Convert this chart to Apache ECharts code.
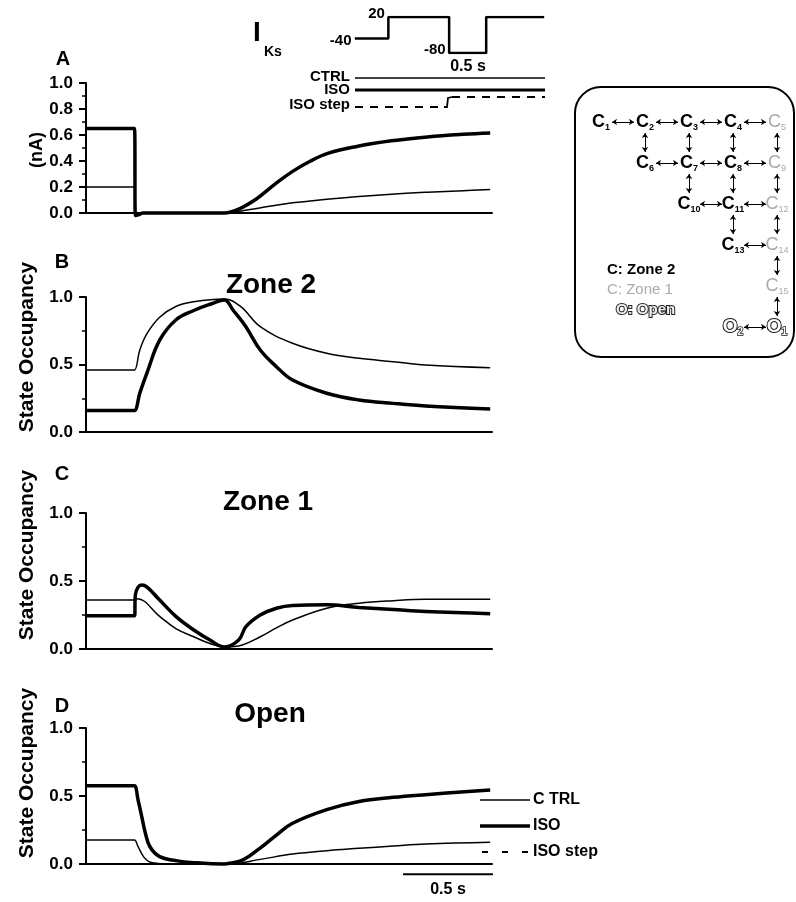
<!DOCTYPE html>
<html>
<head>
<meta charset="utf-8">
<title>IKs state occupancy</title>
<script src="https://cdn.jsdelivr.net/npm/echarts@6/dist/echarts.min.js"></script>
<style>
html, body { margin: 0; padding: 0; background: #fff; }
#main { width: 796px; height: 902px; }
</style>
</head>
<body>
<div id="main"></div>
<script>
// ---- data (time in s) ----
// A: current (nA)
var tA_ctrl = [0, 0.255, 0.27, 0.275, 0.29, 0.74, 0.77, 0.85, 0.95, 1.05, 1.15, 1.3, 1.5, 1.7, 1.9, 2.1, 2.25];
var vA_ctrl = [0.2, 0.2, 0.2, 0, 0, 0, 0, 0.012, 0.035, 0.058, 0.078, 0.1, 0.125, 0.145, 0.16, 0.172, 0.18];
var tA_iso = [0, 0.255, 0.27, 0.275, 0.29, 0.32, 0.74, 0.77, 0.85, 0.95, 1.05, 1.15, 1.25, 1.35, 1.5, 1.7, 1.9, 2.1, 2.25];
var vA_iso = [0.65, 0.65, 0.65, -0.02, -0.015, 0, 0, 0, 0.03, 0.11, 0.22, 0.32, 0.4, 0.46, 0.51, 0.555, 0.585, 0.605, 0.615];

// B: zone 2 occupancy
var tB_ctrl = [0, 0.255, 0.27, 0.3, 0.34, 0.41, 0.5, 0.6, 0.77, 0.86, 0.97, 1.15, 1.34, 1.52, 1.71, 1.89, 2.25];
var vB_ctrl = [0.46, 0.46, 0.46, 0.61, 0.73, 0.85, 0.93, 0.965, 0.985, 0.93, 0.78, 0.657, 0.583, 0.546, 0.521, 0.496, 0.476];
var tB_iso = [0, 0.255, 0.27, 0.3, 0.34, 0.41, 0.5, 0.6, 0.7, 0.77, 0.82, 0.89, 0.97, 1.06, 1.15, 1.34, 1.52, 1.71, 1.89, 2.25];
var vB_iso = [0.16, 0.16, 0.16, 0.29, 0.44, 0.68, 0.83, 0.9, 0.95, 0.978, 0.9, 0.78, 0.607, 0.484, 0.385, 0.287, 0.237, 0.212, 0.193, 0.17];

// C: zone 1 occupancy
var tC_ctrl = [0, 0.255, 0.27, 0.285, 0.41, 0.5, 0.6, 0.69, 0.77, 0.87, 0.97, 1.06, 1.15, 1.34, 1.52, 1.71, 1.89, 2.25];
var vC_ctrl = [0.36, 0.36, 0.36, 0.37, 0.24, 0.15, 0.09, 0.04, 0.015, 0.03, 0.09, 0.155, 0.213, 0.3, 0.336, 0.355, 0.365, 0.365];
var tC_iso = [0, 0.255, 0.27, 0.275, 0.29, 0.31, 0.34, 0.41, 0.5, 0.6, 0.69, 0.77, 0.85, 0.89, 0.97, 1.06, 1.15, 1.34, 1.52, 1.71, 1.89, 2.25];
var vC_iso = [0.245, 0.245, 0.245, 0.4, 0.455, 0.47, 0.455, 0.36, 0.24, 0.14, 0.066, 0.015, 0.066, 0.164, 0.25, 0.3, 0.32, 0.325, 0.306, 0.29, 0.275, 0.26];

// D: open occupancy
var tD_ctrl = [0, 0.255, 0.27, 0.29, 0.32, 0.35, 0.4, 0.5, 0.8, 0.97, 1.15, 1.34, 1.52, 1.71, 1.89, 2.25];
var vD_ctrl = [0.176, 0.176, 0.176, 0.127, 0.054, 0.017, 0.004, 0, 0, 0.034, 0.073, 0.098, 0.115, 0.132, 0.147, 0.16];
var tD_iso = [0, 0.255, 0.27, 0.29, 0.31, 0.33, 0.356, 0.41, 0.5, 0.6, 0.77, 0.8, 0.874, 0.967, 1.06, 1.15, 1.34, 1.52, 1.71, 1.89, 2.25];
var vD_iso = [0.576, 0.576, 0.576, 0.47, 0.35, 0.23, 0.127, 0.054, 0.025, 0.01, 0, 0.005, 0.03, 0.115, 0.213, 0.3, 0.4, 0.46, 0.49, 0.51, 0.545];

// voltage protocol (schematic time, mV)
var protoT = [0, 0.45, 0.45, 1.27, 1.27, 1.77, 1.77, 2.55];
var protoV = [-40, -40, 20, 20, -80, -80, 20, 20];
var protoLabelIdx = [0, 2, 4];

var yTicksA = 0.2;
var yTicksOcc = 0.5;
var scaleBarT = [1.765, 2.265];   // 0.5 s bar under panel D
var scaleBarY = -0.075;

// kinetic scheme
var stateNames = ['C1','C2','C3','C4','C5','C6','C7','C8','C9','C10','C11','C12','C13','C14','C15','O2','O1'];
var stateCol = [0,1,2,3,4, 1,2,3,4, 2,3,4, 3,4, 4, 3,4];
var stateRow = [0,0,0,0,0, 1,1,1,1, 2,2,2, 3,3, 4, 5,5];
var stateZone = ['dk','dk','dk','dk','lt', 'dk','dk','dk','lt', 'dk','dk','lt', 'dk','lt', 'lt', 'op','op'];
var transitions = [
  ['C1','C2'],['C2','C3'],['C3','C4'],['C4','C5'],
  ['C6','C7'],['C7','C8'],['C8','C9'],
  ['C10','C11'],['C11','C12'],['C13','C14'],['O2','O1'],
  ['C2','C6'],['C3','C7'],['C4','C8'],['C5','C9'],
  ['C7','C10'],['C8','C11'],['C9','C12'],
  ['C11','C13'],['C12','C14'],['C14','C15'],['C15','O1']
];

var FONT = '"Liberation Sans", Arial, Helvetica, sans-serif';

function pairs(t, v) {
  return t.map(function (x, i) { return [x, v[i]]; });
}

var chart = echarts.init(document.getElementById('main'));

var gridBoxes = [
  {left: 86, top: 83, width: 406, height: 130},
  {left: 86, top: 297, width: 406, height: 135},
  {left: 86, top: 513, width: 406, height: 136},
  {left: 86, top: 728, width: 406, height: 136},
  {left: 355, top: 17, width: 189, height: 36}
];

var xAxes = [], yAxes = [];
for (var i = 0; i < 4; i++) {
  xAxes.push({
    type: 'value', gridIndex: i, min: 0, max: 2.26,
    axisLine: {onZero: true, lineStyle: {color: '#000', width: 2}},
    axisTick: {show: false}, axisLabel: {show: false}, splitLine: {show: false}
  });
  yAxes.push({
    type: 'value', gridIndex: i, min: 0, max: 1,
    interval: i === 0 ? yTicksA : yTicksOcc,
    axisLine: {show: true, lineStyle: {color: '#000', width: 2}},
    axisTick: {show: true, length: 7, lineStyle: {color: '#000', width: 2}},
    minorTick: {show: true, splitNumber: 2, length: 4, lineStyle: {color: '#000', width: 1.5}},
    splitLine: {show: false},
    axisLabel: {
      margin: 13, color: '#000', fontFamily: FONT, fontWeight: 'bold', fontSize: 17,
      formatter: function (v) { return v.toFixed(1); }
    }
  });
}
xAxes.push({type: 'value', gridIndex: 4, min: 0, max: 2.55, show: false});
yAxes.push({type: 'value', gridIndex: 4, min: -80, max: 20, show: false});

function trace(idx, t, v, w) {
  return {
    type: 'line', xAxisIndex: idx, yAxisIndex: idx,
    data: pairs(t, v), showSymbol: false, symbol: 'none',
    smooth: 0.4, clip: false,
    lineStyle: {color: '#000', width: w}
  };
}

var series = [
  trace(0, tA_ctrl, vA_ctrl, 1.5), trace(0, tA_iso, vA_iso, 3.5),
  trace(1, tB_ctrl, vB_ctrl, 1.5), trace(1, tB_iso, vB_iso, 3.5),
  trace(2, tC_ctrl, vC_ctrl, 1.5), trace(2, tC_iso, vC_iso, 3.5),
  trace(3, tD_ctrl, vD_ctrl, 1.5), trace(3, tD_iso, vD_iso, 3.5)
];

// scale bar under panel D, drawn on panel D's axes
series.push({
  type: 'line', xAxisIndex: 3, yAxisIndex: 3, clip: false,
  showSymbol: false, symbol: 'none',
  data: scaleBarT.map(function (t) { return [t, scaleBarY]; }),
  lineStyle: {color: '#000', width: 2}
});

// protocol trace with level labels
series.push({
  type: 'line', xAxisIndex: 4, yAxisIndex: 4,
  showSymbol: true, symbol: 'circle', symbolSize: 1,
  itemStyle: {color: '#000'},
  lineStyle: {color: '#000', width: 2.5},
  data: protoT.map(function (t, k) {
    var item = {value: [t, protoV[k]]};
    if (protoLabelIdx.indexOf(k) >= 0) {
      item.label = {
        show: true, position: 'left', distance: 3,
        offset: [0, protoV[k] === -40 ? 2 : -3],
        formatter: String(protoV[k]),
        color: '#000', fontFamily: FONT, fontWeight: 'bold', fontSize: 15
      };
    }
    return item;
  })
});

// kinetic scheme as graph
var nodeData = stateNames.map(function (n, k) {
  var z = stateZone[k];
  return {
    name: n, x: stateCol[k] * 44, y: stateRow[k] * 41,
    label: {formatter: '{' + z + '|' + n.charAt(0) + '}{' + z + 's|' + n.slice(1) + '}'}
  };
});
series.push({
  type: 'graph', layout: 'none', roam: false, silent: true,
  left: 601, top: 122, width: 176, height: 205,
  symbol: 'rect', symbolSize: 22,
  itemStyle: {color: 'rgba(0,0,0,0)'},
  edgeSymbol: ['arrow', 'arrow'], edgeSymbolSize: 5,
  lineStyle: {color: '#000', width: 1, opacity: 1, curveness: 0},
  label: {
    show: true, position: 'inside',
    rich: {
      dk: {fontFamily: FONT, fontSize: 18, fontWeight: 'bold', color: '#000', lineHeight: 20, verticalAlign: 'middle'},
      dks: {fontFamily: FONT, fontSize: 9, fontWeight: 'bold', color: '#000', lineHeight: 12, verticalAlign: 'bottom'},
      lt: {fontFamily: FONT, fontSize: 18, color: '#aaa', lineHeight: 20, verticalAlign: 'middle'},
      lts: {fontFamily: FONT, fontSize: 9, color: '#aaa', lineHeight: 12, verticalAlign: 'bottom'},
      op: {fontFamily: FONT, fontSize: 19, fontWeight: 'bold', color: '#fff', textBorderColor: '#111', textBorderWidth: 2, lineHeight: 20, verticalAlign: 'middle'},
      ops: {fontFamily: FONT, fontSize: 10, fontWeight: 'bold', color: '#fff', textBorderColor: '#111', textBorderWidth: 1.5, lineHeight: 12, verticalAlign: 'bottom'}
    }
  },
  data: nodeData,
  links: transitions.map(function (p) { return {source: p[0], target: p[1]}; })
});

function txt(x, y, s, size, opt) {
  opt = opt || {};
  return {
    type: 'text', x: x, y: y, rotation: opt.rot || 0, silent: true,
    style: {
      text: s, fill: opt.fill || '#000',
      font: (opt.weight || 'bold') + ' ' + size + 'px ' + FONT,
      textAlign: opt.align || 'center', textVerticalAlign: 'middle',
      stroke: opt.stroke, lineWidth: opt.lw || 0
    }
  };
}
function seg(x1, y1, x2, y2, w, dash) {
  return {
    type: 'line', silent: true, shape: {x1: x1, y1: y1, x2: x2, y2: y2},
    style: {stroke: '#000', lineWidth: w, lineDash: dash || null}
  };
}

var graphics = [
  // panel letters and titles
  txt(63, 59, 'A', 20), txt(62, 262, 'B', 20), txt(62, 474, 'C', 20), txt(62, 706, 'D', 20),
  txt(271, 285, 'Zone 2', 28), txt(268, 502, 'Zone 1', 28), txt(270, 714, 'Open', 28),
  // axis names
  txt(37, 150, '(nA)', 18, {rot: Math.PI / 2}),
  txt(27, 347, 'State Occupancy', 21, {rot: Math.PI / 2}),
  txt(27, 555, 'State Occupancy', 21, {rot: Math.PI / 2}),
  txt(27, 773, 'State Occupancy', 21, {rot: Math.PI / 2}),
  // protocol header
  txt(257, 33, 'I', 28),
  txt(264, 52, 'Ks', 14, {align: 'left'}),
  txt(468, 67, '0.5 s', 16),
  // top legend
  txt(350, 77, 'CTRL', 15, {align: 'right'}),
  txt(350, 90, 'ISO', 15, {align: 'right'}),
  txt(350, 105, 'ISO step', 15, {align: 'right'}),
  seg(355, 78, 545, 78, 1.5),
  seg(355, 90, 545, 90, 3),
  seg(355, 107, 444, 107, 1.8, [8, 7]),
  {type: 'polyline', silent: true, shape: {points: [[444, 107], [447, 107], [448, 98], [452, 97]]}, style: {stroke: '#000', lineWidth: 1.8, fill: null}},
  seg(452, 97, 545, 97, 1.8, [8, 7]),
  // bottom legend
  seg(480, 800, 530, 800, 1.5),
  seg(480, 826, 530, 826, 3.5),
  seg(482, 852, 530, 852, 2, [6, 14]),
  txt(533, 800, 'C TRL', 16, {align: 'left'}),
  txt(533, 826, 'ISO', 16, {align: 'left'}),
  txt(533, 852, 'ISO step', 16, {align: 'left'}),
  // scheme box and key
  {type: 'rect', silent: true, shape: {x: 575, y: 87, width: 219, height: 270, r: 26},
   style: {fill: null, stroke: '#000', lineWidth: 2}},
  txt(607, 270, 'C: Zone 2', 15, {align: 'left'}),
  txt(607, 290, 'C: Zone 1', 15, {align: 'left', weight: 'normal', fill: '#aaa'}),
  txt(616, 310, 'O: Open', 15, {align: 'left', fill: '#eee', stroke: '#222', lw: 2})
];

chart.setOption({
  animation: false,
  backgroundColor: '#fff',
  grid: gridBoxes,
  xAxis: xAxes,
  yAxis: yAxes,
  series: series,
  graphic: graphics
});

// caption of the scale bar, centred on it through panel D's scales
var mid = chart.convertToPixel({xAxisIndex: 3, yAxisIndex: 3},
  [(scaleBarT[0] + scaleBarT[1]) / 2, scaleBarY]);
graphics.push(txt(mid[0], mid[1] + 15, (scaleBarT[1] - scaleBarT[0]).toFixed(1) + ' s', 16));
chart.setOption({graphic: graphics});
</script>
</body>
</html>
